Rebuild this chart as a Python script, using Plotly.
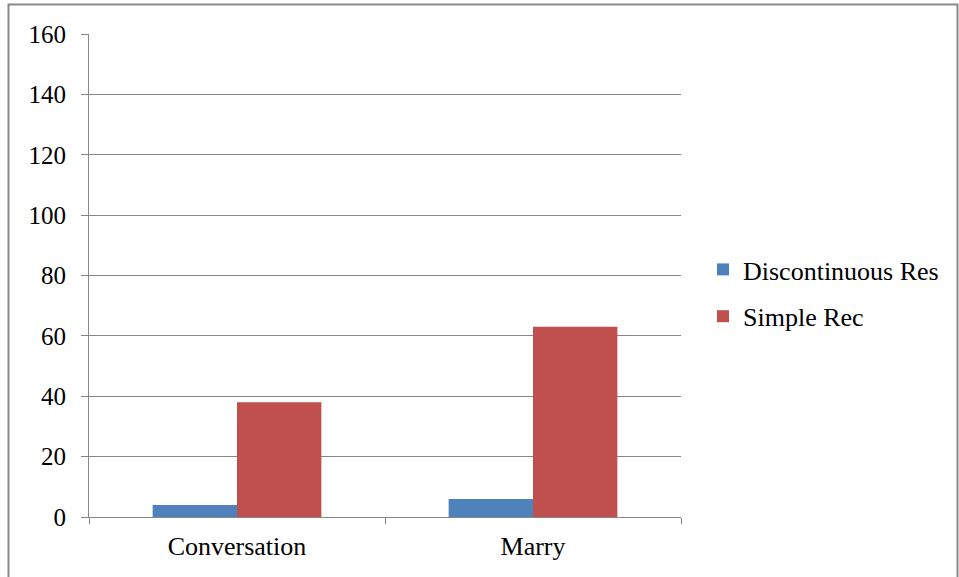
import plotly.graph_objects as go

categories = ["Conversation", "Marry"]
discontinuous_res = [4, 6]
simple_rec = [38, 63]
y_ticks = [0, 20, 40, 60, 80, 100, 120, 140, 160]

W, H = 959, 577
L, R, T, B = 89, 681, 34, 517  # plot area in pixels

def px_to_paper_x(px):
    return (px - L) / (R - L)

def px_to_paper_y(py):
    return (B - py) / (B - T)

SERIF = '"Liberation Serif", "Times New Roman", Times, serif'

fig = go.Figure()
fig.add_trace(go.Bar(name="Discontinuous Res", x=categories, y=discontinuous_res,
                     legendgroup="a",
                     marker=dict(color="#4F81BD", line=dict(width=0))))
fig.add_trace(go.Bar(name="Simple Rec", x=categories, y=simple_rec,
                     legendgroup="b",
                     marker=dict(color="#C0504D", line=dict(width=0))))

grid_col = "#878787"
fig.update_layout(
    width=W, height=H,
    margin=dict(l=L, r=W - R, t=T, b=H - B, pad=0),
    paper_bgcolor="white", plot_bgcolor="white",
    barmode="group", bargap=0.43, bargroupgap=0,
    font=dict(family=SERIF, color="black", size=26),
    showlegend=True,
    legend=dict(x=px_to_paper_x(703), y=px_to_paper_y(293), xanchor="left", yanchor="middle",
                font=dict(family=SERIF, size=26), bgcolor="rgba(0,0,0,0)", borderwidth=0,
                itemclick=False, traceorder="grouped", tracegroupgap=10),
    xaxis=dict(
        type="category", tickson="boundaries", ticks="outside", ticklen=6,
        tickcolor=grid_col, tickwidth=1, showgrid=False,
        showline=True, linecolor=grid_col, linewidth=1,
        tickfont=dict(family=SERIF, size=26), ticklabelstandoff=6,
    ),
    yaxis=dict(
        range=[0, 160], tickvals=y_ticks, ticks="outside", ticklen=7,
        tickcolor=grid_col, tickwidth=1, showgrid=True, gridcolor=grid_col, gridwidth=1,
        showline=True, linecolor=grid_col, linewidth=1, zeroline=False,
        tickfont=dict(family=SERIF, size=25), ticklabelstandoff=10,
    ),
    shapes=[dict(type="rect", xref="paper", yref="paper",
                 x0=px_to_paper_x(8.5), x1=px_to_paper_x(957.5),
                 y0=px_to_paper_y(600), y1=px_to_paper_y(4.5),
                 line=dict(color="#8a8a8a", width=2), fillcolor="rgba(0,0,0,0)",
                 layer="below")],
)

fig.write_html("out.html")
